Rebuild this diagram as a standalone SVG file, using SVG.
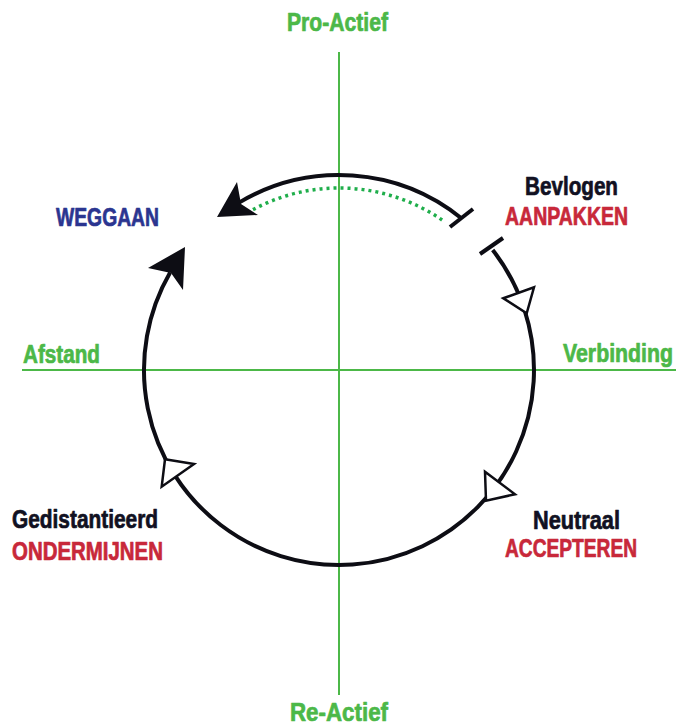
<svg xmlns="http://www.w3.org/2000/svg" width="677" height="725" viewBox="0 0 677 725">
<style>
text{font-family:"Liberation Sans Narrow","Liberation Sans",Arial,sans-serif;font-weight:bold;font-size:25px;stroke-width:0.7px;stroke-linejoin:round}
.g{fill:#4cb848;stroke:#4cb848}.b{fill:#111122;stroke:#111122}.r{fill:#c8283a;stroke:#c8283a}.n{fill:#2b3590;stroke:#2b3590}
.axis{stroke:#4cb848;stroke-width:2;fill:none}
.arc{stroke:#0d0d14;stroke-width:4;fill:none}
.open{fill:#fff;stroke:#0d0d14;stroke-width:2.5;stroke-linejoin:miter}
.head{fill:#0d0d14}
</style>
<g id="axes">
<line class="axis" x1="339" y1="52" x2="339" y2="695"/>
<line class="axis" x1="22" y1="370" x2="676" y2="370"/>
</g>
<g id="connectors">
<path class="arc" d="M461.7,218.5 A195,195 0 0 0 238.6,202.9"/>
<line class="arc" x1="450" y1="227" x2="473" y2="209"/>
<polygon class="head" points="217,217 237,182 241,204 258,215"/>
<path d="M442.1,220 A182,182 0 0 0 250.8,210.8" fill="none" stroke="#1fae4b" stroke-width="3.5" stroke-dasharray="3 4"/>
<path class="arc" d="M492.7,250 A195,195 0 1 1 170.1,272.5"/>
<line class="arc" x1="480" y1="254" x2="503" y2="238"/>
<polygon class="head" points="185,247 148,268 171,273 183,290"/>
<polygon class="open" points="503.3,298.3 534,287.3 526.7,313.3"/>
<polygon class="open" points="485,471.7 515,494.3 486,500.7"/>
<polygon class="open" points="165,459.3 194,464 161.7,486.7"/>
</g>
<g id="pro-actief"><text class="g" x="287" y="31" textLength="101" lengthAdjust="spacingAndGlyphs">Pro-Actief</text></g>
<g id="re-actief"><text class="g" x="290" y="721" textLength="98" lengthAdjust="spacingAndGlyphs">Re-Actief</text></g>
<g id="afstand"><text class="g" x="23" y="363" textLength="77" lengthAdjust="spacingAndGlyphs">Afstand</text></g>
<g id="verbinding"><text class="g" x="673" y="362" text-anchor="end" textLength="110" lengthAdjust="spacingAndGlyphs">Verbinding</text></g>
<g id="weggaan"><text class="n" x="56" y="226" textLength="103" lengthAdjust="spacingAndGlyphs">WEGGAAN</text></g>
<g id="bevlogen">
<text class="b" x="525" y="195" textLength="93" lengthAdjust="spacingAndGlyphs">Bevlogen</text>
<text class="r" x="505" y="225" textLength="123" lengthAdjust="spacingAndGlyphs">AANPAKKEN</text>
</g>
<g id="neutraal">
<text class="b" x="533" y="529" textLength="87" lengthAdjust="spacingAndGlyphs">Neutraal</text>
<text class="r" x="505" y="557" textLength="132" lengthAdjust="spacingAndGlyphs">ACCEPTEREN</text>
</g>
<g id="gedistantieerd">
<text class="b" x="12" y="528" textLength="146" lengthAdjust="spacingAndGlyphs">Gedistantieerd</text>
<text class="r" x="12" y="560" textLength="151" lengthAdjust="spacingAndGlyphs">ONDERMIJNEN</text>
</g>
</svg>
